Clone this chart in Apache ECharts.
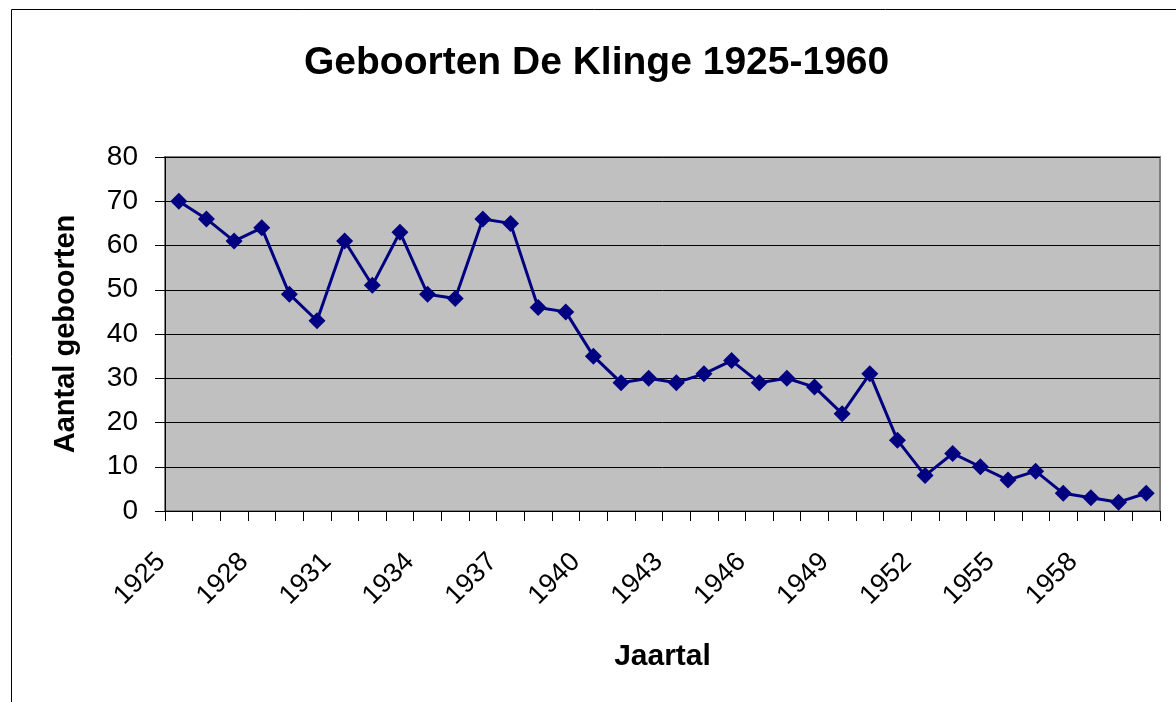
<!DOCTYPE html>
<html>
<head>
<meta charset="utf-8">
<title>Geboorten De Klinge 1925-1960</title>
<script src="https://cdn.jsdelivr.net/npm/echarts@6/dist/echarts.min.js"></script>
<style>
  html, body { margin: 0; padding: 0; background: #fff; }
  #chart { width: 1176px; height: 702px; }
</style>
</head>
<body>
<div id="chart"></div>
<script>
// jaartallen 1925-1960
const years = ["1925", "1926", "1927", "1928", "1929", "1930", "1931", "1932", "1933", "1934",
  "1935", "1936", "1937", "1938", "1939", "1940", "1941", "1942", "1943", "1944",
  "1945", "1946", "1947", "1948", "1949", "1950", "1951", "1952", "1953", "1954",
  "1955", "1956", "1957", "1958", "1959", "1960"];

const births = [70, 66, 61, 64, 49, 43, 61, 51, 63, 49,
  48, 66, 65, 46, 45, 35, 29, 30, 29, 31,
  34, 29, 30, 28, 22, 31, 16, 8, 13, 10,
  7, 9, 4, 3, 2, 4];

const yTicks = [0, 10, 20, 30, 40, 50, 60, 70, 80];

const chart = echarts.init(document.getElementById("chart"));

chart.setOption({
  backgroundColor: "#fff",
  textStyle: { fontFamily: "Liberation Sans, Arial, sans-serif" },
  title: {
    text: "Geboorten De Klinge 1925-1960",
    left: 304,
    top: 44,
    padding: 0,
    textStyle: { fontSize: 39, fontWeight: "bold", color: "#000" }
  },
  graphic: [{
    // kader rond de grafiek
    type: "rect",
    left: 9,
    top: 7,
    shape: { width: 1300, height: 900 },
    style: { fill: null, stroke: "#000", lineWidth: 1 },
    silent: true
  }],
  grid: {
    left: 165,
    right: 16,
    top: 157,
    bottom: 191,
    show: true,
    backgroundColor: "#C0C0C0",
    borderColor: "#808080",
    borderWidth: 2
  },
  xAxis: {
    type: "category",
    data: years,
    boundaryGap: true,
    name: "Jaartal",
    nameLocation: "middle",
    nameGap: 131,
    nameTextStyle: { fontSize: 30, fontWeight: "bold", color: "#000" },
    axisLine: { show: true, lineStyle: { color: "#000", width: 1 } },
    axisTick: { show: true, interval: 0, length: 10, lineStyle: { color: "#000", width: 1 } },
    axisLabel: {
      interval: 2,
      rotate: 45,
      fontSize: 27,
      color: "#000",
      margin: 29,
      padding: [0, 25, 0, 0]
    },
    splitLine: { show: false }
  },
  yAxis: {
    type: "value",
    min: yTicks[0],
    max: yTicks[yTicks.length - 1],
    interval: 10,
    name: "Aantal geboorten",
    nameLocation: "middle",
    nameRotate: 90,
    nameGap: 85,
    nameTextStyle: { fontSize: 29, fontWeight: "bold", color: "#000" },
    axisLine: { show: true, lineStyle: { color: "#000", width: 1 } },
    axisTick: { show: true, length: 10, lineStyle: { color: "#000", width: 1 } },
    axisLabel: { fontSize: 28, color: "#000", margin: 27 },
    splitLine: { show: true, lineStyle: { color: "#000", width: 1 } }
  },
  series: [{
    name: "Geboorten",
    type: "line",
    data: births,
    symbol: "diamond",
    symbolSize: 17,
    itemStyle: { color: "#000080" },
    lineStyle: { color: "#000080", width: 3 },
    animation: false
  }]
});
</script>
</body>
</html>
